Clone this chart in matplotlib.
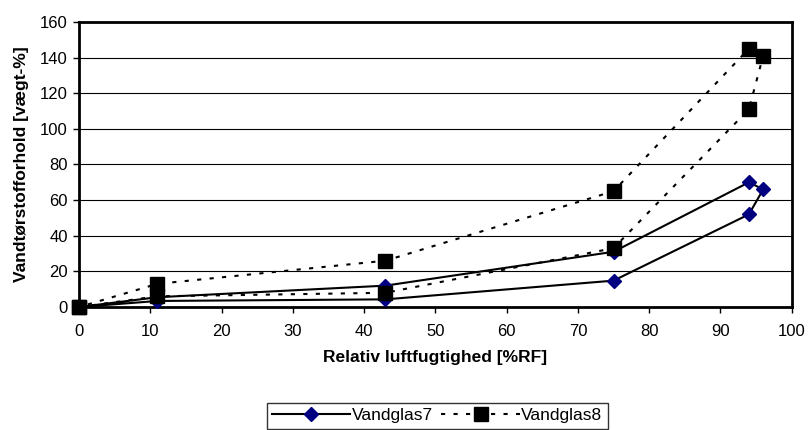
import numpy as np
from matplotlib import pyplot as plt

plt.rcParams['font.family'] = ['Liberation Sans', 'DejaVu Sans']

# sorption/desorption loops
rf = [0, 11, 43, 75, 94, 96, 94, 75, 43, 11, 0]
vandglas7 = [0, 3.4, 4.3, 14.8, 52, 66, 70, 31, 12, 5.5, 0]
vandglas8 = [0, 6, 8, 33, 111, 141, 145, 65, 26, 13, 0]

fig = plt.figure(figsize=(8.08, 4.30), dpi=100)
ax = fig.add_axes([0.0978, 0.286, 0.882, 0.663])

ax.plot(rf, vandglas7, color="black", lw=1.5, marker="D", markersize=7.5,
        markerfacecolor="#000080", markeredgecolor="#000080", label="Vandglas7", zorder=3)
ax.plot(rf, vandglas8, color="black", lw=1.5, ls=(0, (2, 4)), marker="s", markersize=10,
        markerfacecolor="black", markeredgecolor="black", label="Vandglas8", zorder=4)

ax.set_xlim(0, 100)
ax.set_ylim(0, 160)
ax.set_xticks(np.arange(0, 101, 10))
ax.set_yticks(np.arange(0, 161, 20))
ax.yaxis.grid(True, color="black", lw=0.8)
ax.set_axisbelow(True)
for s in ax.spines.values():
    s.set_linewidth(2)
    s.set_color("black")
ax.tick_params(axis="both", direction="out", length=4, width=1, labelsize=12)
ax.tick_params(axis="x", pad=8)
ax.tick_params(axis="y", pad=4)
for p in ax.lines:
    p.set_clip_on(False)

ax.set_xlabel("Relativ luftfugtighed [%RF]", fontsize=12.5, fontweight="bold", labelpad=8)
ax.set_ylabel("Vandtørstofforhold [vægt-%]", fontsize=12.5, fontweight="bold", labelpad=8)

leg = fig.legend(loc="upper center", bbox_to_anchor=(0.541, 0.0628), ncol=2, fontsize=12.5,
                 frameon=True, fancybox=False, edgecolor="black", handlelength=4.5,
                 columnspacing=0.5, handletextpad=0.1, borderpad=0.3, borderaxespad=0)
leg.get_frame().set_linewidth(1)

plt.savefig("out.png", dpi=100)
